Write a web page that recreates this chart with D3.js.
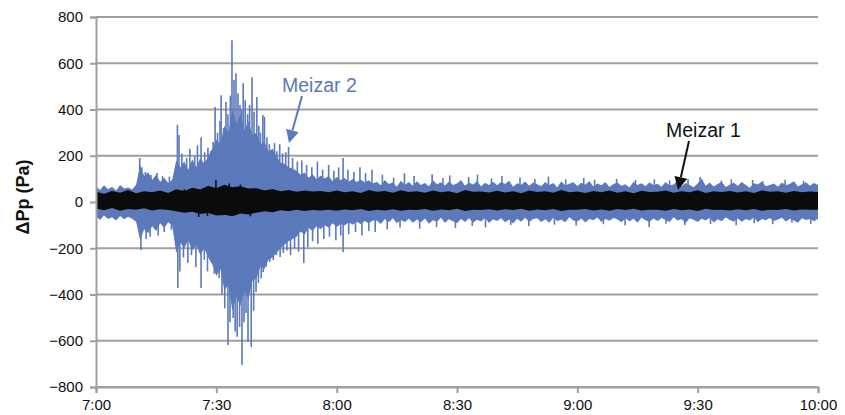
<!DOCTYPE html>
<html><head><meta charset="utf-8">
<script src="https://cdn.jsdelivr.net/npm/d3@7"></script>
<style>body{margin:0;background:#fff}svg{display:block}</style>
</head><body>
<svg id="c" width="845" height="415"></svg>
<script>
// ---- data (minutes after 7:00) ----
const yTicks = [-800,-600,-400,-200,0,200,400,600,800];
const xTickLabels = ["7:00","7:30","8:00","8:30","9:00","9:30","10:00"];
// Meizar 2: per-minute envelope (0..180)
const m2Upper = [68,52,72,55,66,50,74,58,63,54,
75,160,112,130,95,118,88,105,82,96,
180,150,175,140,185,150,190,165,200,230,
270,250,330,300,400,340,380,310,350,290,
300,250,260,220,230,200,170,165,150,145,
135,118,128,105,120,98,115,102,112,90,
108,95,104,88,100,86,97,84,94,80,
88,72,95,78,84,66,92,75,86,70,
90,74,82,68,94,77,85,71,89,73,
80,95,70,84,76,90,68,83,74,88,
72,86,78,92,66,81,75,89,70,84,
77,68,87,73,82,64,90,71,79,85,
69,83,75,91,67,80,72,86,65,78,
84,70,77,63,88,74,81,68,85,72,
79,66,87,71,76,92,68,82,73,64,
80,102,70,84,67,78,88,65,75,83,
70,86,73,62,81,76,89,68,74,80,
66,84,72,79,90,67,77,85,70,82,74];
const m2Lower = [-62,-78,-58,-74,-66,-80,-60,-75,-64,-72,
-85,-165,-118,-135,-105,-125,-92,-112,-88,-100,
-220,-175,-200,-165,-210,-185,-230,-200,-240,-270,
-320,-290,-380,-360,-470,-410,-450,-380,-420,-340,
-330,-280,-290,-250,-240,-220,-200,-185,-170,-160,
-150,-128,-140,-112,-125,-105,-118,-100,-110,-92,
-108,-95,-102,-88,-98,-85,-95,-82,-92,-80,
-80,-95,-74,-88,-70,-92,-78,-86,-72,-90,
-76,-88,-71,-94,-79,-85,-68,-90,-75,-83,
-92,-73,-86,-70,-89,-77,-84,-69,-91,-75,
-82,-70,-88,-76,-93,-72,-85,-68,-87,-74,
-70,-86,-75,-90,-68,-82,-77,-88,-66,-80,
-84,-71,-89,-74,-79,-67,-86,-73,-81,-69,
-76,-88,-70,-83,-72,-90,-68,-79,-85,-71,
-82,-69,-78,-87,-66,-80,-74,-91,-70,-77,
-86,-72,-80,-68,-89,-75,-83,-66,-78,-84,
-71,-85,-74,-80,-67,-88,-73,-79,-69,-82,
-76,-68,-84,-72,-80,-90,-70,-78,-74,-83,-72];
// Meizar 2 individual peaks [minute, Pa]
const m2Peaks = [[10.9,190],[11.4,150],[12.3,130],[13.7,117],[15.2,125],[16.6,112],[18.3,110],[19.5,100],
[20.3,333],[20.7,290],[21.4,210],[22.6,190],[23.4,230],[24.6,200],[25.3,245],[26.2,280],[27.1,215],[27.9,235],[28.6,220],[29.2,260],
[29.7,411],[30.3,300],[30.9,350],[31.2,462],[31.8,320],[32.4,432],[32.9,380],[33.5,460],[33.9,700],[34.4,528],[34.9,557],[35.4,470],[35.9,420],[36.3,400],[36.7,514],[37.2,440],[37.8,380],[38.3,420],[38.9,540],[39.4,390],[40.1,454],[40.6,330],[41.0,300],[41.6,376],[42.0,368],[42.6,280],[43.2,250],[44.5,255],[45.1,220],[45.8,250],[46.5,210],[47.3,215],[48.0,238],[49.0,190],[50.2,175],[51.3,180],[52.5,160],[53.8,150],[55.2,175],[56.5,140],[58.0,160],[59.3,135],[60.5,150],[61.6,190],[62.8,140],[64.3,130],[65.8,150],[67.2,125],[68.8,140],
[71.4,118],[74.2,105],[76.9,125],[79.3,112],[83.8,120],[86.5,104],[88.2,115],[92.9,108],[95.1,118],[98.6,102],[101.2,112],[105.7,106],[109.4,100],[112.8,110],[117.1,98],[121.6,104],[124.3,96],[129.8,100],[134.5,95],[139.2,98],[143.0,94],[147.6,100],[150.6,108],[155.9,92],[158.4,98],[163.7,95],[166.2,90],[171.8,96],[176.4,92],
[11.2,-208],[12.5,-160],[13.5,-150],[15.5,-145],[17.0,-130],[18.8,-120],
[20.4,-372],[20.9,-300],[21.8,-240],[22.9,-264],[23.8,-230],[24.9,-281],[26.2,-372],[27.0,-250],[27.8,-300],[28.7,-259],[29.5,-310],[30.7,-329],[31.4,-400],[32.1,-460],[32.9,-618],[33.4,-520],[34.2,-502],[34.7,-560],[35.2,-583],[35.8,-540],[36.4,-705],[36.9,-520],[37.4,-480],[37.9,-605],[38.7,-627],[39.3,-470],[39.9,-389],[40.5,-350],[41.2,-330],[41.7,-303],[42.4,-280],[43.3,-260],[44.2,-251],[45.0,-230],[45.9,-238],[46.7,-220],[47.6,-210],[48.5,-230],[49.5,-200],[50.5,-215],[51.8,-264],[52.8,-195],[54.0,-170],[55.3,-180],[56.8,-160],[58.2,-150],[59.8,-165],[61.0,-145],[61.6,-216],[63.0,-140],[64.7,-130],[66.3,-145],[68.0,-125],[69.6,-130],
[72.6,-118],[75.8,-110],[80.7,-115],[84.9,-108],[89.6,-112],[93.8,-104],[97.1,-110],[103.4,-100],[107.9,-104],[114.3,-98],[119.7,-102],[126.5,-96],[131.9,-100],[137.9,-108],[142.1,-94],[146.8,-99],[153.2,-95],[159.6,-100],[164.1,-92],[168.7,-96],[173.5,-90],[178.2,-94]];
// Meizar 1: envelope every 2 minutes (0..180)
const m1Upper = [44,36,48,40,52,38,46,42,50,39,
55,48,62,54,70,60,75,64,68,58,
60,50,56,46,52,44,50,45,48,42,
50,42,47,39,52,44,48,40,51,43,
46,40,50,42,47,38,52,44,45,41,
49,41,46,38,50,43,47,40,52,42,
45,39,48,42,50,40,46,38,49,43,
44,50,40,47,42,51,39,46,43,48,
41,47,39,50,44,46,40,48,42,45,43];
const m1Lower = [-28,-36,-26,-38,-30,-34,-27,-37,-31,-35,
-40,-46,-42,-52,-48,-58,-55,-62,-50,-54,
-46,-40,-44,-36,-40,-34,-39,-35,-37,-33,
-38,-32,-36,-30,-39,-33,-37,-31,-38,-34,
-35,-30,-38,-32,-36,-29,-39,-33,-35,-31,
-37,-31,-35,-29,-38,-32,-36,-30,-39,-33,
-34,-30,-37,-32,-38,-30,-35,-29,-37,-33,
-33,-38,-30,-36,-32,-39,-29,-35,-33,-37,
-31,-36,-30,-38,-33,-35,-30,-37,-32,-34,-33];
const m1Peaks = [[24.2,60],[25.6,-65],[27.8,-60],[29.9,95],[31.5,-58],[33.2,80],[36.0,75],[38.5,-62],[22.0,55],[34.8,-55]];

// ---- layout ----
const L=96,R=818,T=17,B=387;
const t0 = new Date(2000,0,1,7,0);
const tm = m => new Date(t0.getTime()+m*60000);
const x = d3.scaleTime().domain([tm(0),tm(180)]).range([L,R]);
const y = d3.scaleLinear().domain([-800,800]).range([B,T]);
const svg = d3.select("#c");
const gridC="#a39e9b", blue="#5b79bb", blk="#0b0b0b";
const font="'Liberation Sans', Arial, sans-serif";

// gridlines
svg.append("g").selectAll("line").data(yTicks).join("line")
  .attr("x1",L).attr("x2",R).attr("y1",d=>y(d)).attr("y2",d=>y(d))
  .attr("stroke",gridC).attr("stroke-width",2);

// Meizar 2
const m2 = m2Upper.map((u,i)=>({t:i,u:u,l:m2Lower[i]}));
svg.append("path").datum(m2)
  .attr("d",d3.area().x(d=>x(tm(d.t))).y0(d=>y(d.l)).y1(d=>y(d.u)))
  .attr("fill",blue);
svg.append("g").selectAll("line").data(m2Peaks).join("line")
  .attr("x1",d=>x(tm(d[0]))).attr("x2",d=>x(tm(d[0])))
  .attr("y1",y(0)).attr("y2",d=>y(d[1]))
  .attr("stroke",blue).attr("stroke-width",1.6);

// Meizar 1
const m1 = m1Upper.map((u,i)=>({t:i*2,u:u,l:m1Lower[i]}));
svg.append("path").datum(m1)
  .attr("d",d3.area().x(d=>x(tm(d.t))).y0(d=>y(d.l)).y1(d=>y(d.u)))
  .attr("fill",blk);
svg.append("g").selectAll("line").data(m1Peaks).join("line")
  .attr("x1",d=>x(tm(d[0]))).attr("x2",d=>x(tm(d[0])))
  .attr("y1",y(0)).attr("y2",d=>y(d[1]))
  .attr("stroke",blk).attr("stroke-width",1.5);

// axes
const yAx = svg.append("g").attr("transform",`translate(${L},0)`)
  .call(d3.axisLeft(y).tickValues(yTicks).tickSize(6).tickPadding(7));
const xAx = svg.append("g").attr("transform",`translate(0,${B})`)
  .call(d3.axisBottom(x).ticks(d3.timeMinute.every(30)).tickSize(6).tickPadding(6)
    .tickFormat((d,i)=>xTickLabels[i]));
[yAx,xAx].forEach(g=>{
  g.select(".domain").attr("stroke",gridC).attr("stroke-width",2);
  g.selectAll(".tick line").attr("stroke",gridC).attr("stroke-width",2);
  g.selectAll("text").attr("fill","#111").style("font-family",font).style("font-size","15px");
});

// y title
svg.append("text").attr("transform","translate(29,197) rotate(-90)")
  .attr("text-anchor","middle").style("font-family",font).style("font-weight","bold")
  .style("font-size","18px").attr("fill","#111").text("ΔPp (Pa)");

// annotations
function arrow(x1,y1,x2,y2,col){
  const a=Math.atan2(y2-y1,x2-x1), hl=13, hw=6.5;
  const bx=x2-hl*Math.cos(a), by=y2-hl*Math.sin(a);
  svg.append("line").attr("x1",x1).attr("y1",y1).attr("x2",bx).attr("y2",by)
    .attr("stroke",col).attr("stroke-width",2);
  svg.append("path").attr("d",`M${x2},${y2}L${bx+hw*Math.sin(a)},${by-hw*Math.cos(a)}L${bx-hw*Math.sin(a)},${by+hw*Math.cos(a)}Z`)
    .attr("fill",col);
}
svg.append("text").attr("x",282).attr("y",92).style("font-family",font)
  .style("font-size","19.5px").attr("fill",blue).text("Meizar 2");
arrow(302,96,289,143,blue);
svg.append("text").attr("x",666).attr("y",137).style("font-family",font)
  .style("font-size","19.5px").attr("fill","#111").text("Meizar 1");
arrow(689,141,678,190,"#111");
</script>
</body></html>
